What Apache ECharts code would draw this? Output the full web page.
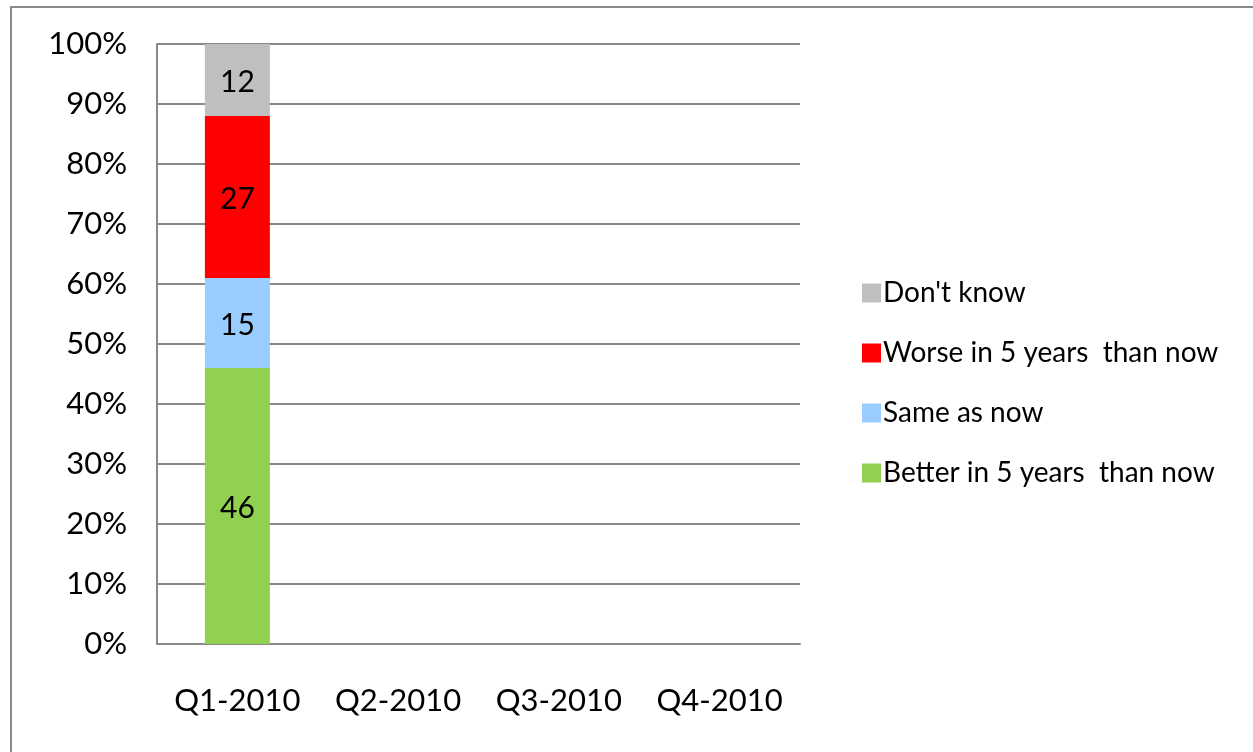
<!DOCTYPE html>
<html>
<head>
<meta charset="utf-8">
<script src="https://cdn.jsdelivr.net/npm/echarts@6/dist/echarts.min.js"></script>
<style>
html,body{margin:0;padding:0;background:#fff;}
#c{width:1253px;height:752px;}
</style>
</head>
<body>
<div id="c"></div>
<script>
const categories = ['Q1-2010', 'Q2-2010', 'Q3-2010', 'Q4-2010'];
const better = [46, null, null, null];
const same = [15, null, null, null];
const worse = [27, null, null, null];
const dontKnow = [12, null, null, null];
const seriesNames = ['Better in 5 years  than now', 'Same as now', 'Worse in 5 years  than now', "Don't know"];
const seriesColors = ['#92D050', '#99CCFF', '#FF0000', '#BFBFBF'];
const yTicks = [0, 10, 20, 30, 40, 50, 60, 70, 80, 90, 100];

const FONT = 'Lato';
const chart = echarts.init(document.getElementById('c'));
const values = [better, same, worse, dontKnow];
const series = values.map((v, i) => ({
  name: seriesNames[i],
  type: 'bar',
  stack: 'total',
  barWidth: 65,
  data: v,
  itemStyle: { color: seriesColors[i] },
  label: {
    show: true,
    position: 'inside',
    color: '#000',
    fontFamily: FONT,
    fontSize: 30,
    offset: [0, 2],
    formatter: p => (p.value == null ? '' : String(p.value))
  }
}));

chart.setOption({
  animation: false,
  backgroundColor: '#fff',
  graphic: [{
    type: 'rect',
    shape: { x: 11, y: 7, width: 1260, height: 780 },
    style: { fill: 'none', stroke: '#8a8a8a', lineWidth: 2 },
    silent: true
  }],
  grid: { left: 157, right: 453, top: 44, bottom: 108 },
  legend: {
    orient: 'vertical',
    left: 857,
    top: 274,
    itemWidth: 19,
    itemHeight: 19,
    itemGap: 32,
    icon: 'rect',
    data: [seriesNames[3], seriesNames[2], seriesNames[1], seriesNames[0]],
    textStyle: { fontFamily: FONT, fontSize: 28, lineHeight: 19, color: '#000', padding: [2, 0, 0, -3] }
  },
  xAxis: {
    type: 'category',
    data: categories,
    axisLine: { lineStyle: { color: '#8a8a8a', width: 2 } },
    axisTick: { show: false },
    axisLabel: { fontFamily: FONT, fontSize: 31, color: '#000', margin: 41, interval: 0 }
  },
  yAxis: {
    type: 'value',
    min: 0,
    max: 100,
    interval: 10,
    axisLine: { show: true, lineStyle: { color: '#8a8a8a', width: 2 } },
    axisTick: { show: false },
    splitLine: { lineStyle: { color: '#8a8a8a', width: 2 } },
    axisLabel: {
      fontFamily: FONT, fontSize: 31, color: '#000', margin: 30,
      formatter: v => (yTicks.includes(v) ? v + '%' : '')
    }
  },
  series: series
});
</script>
</body>
</html>
